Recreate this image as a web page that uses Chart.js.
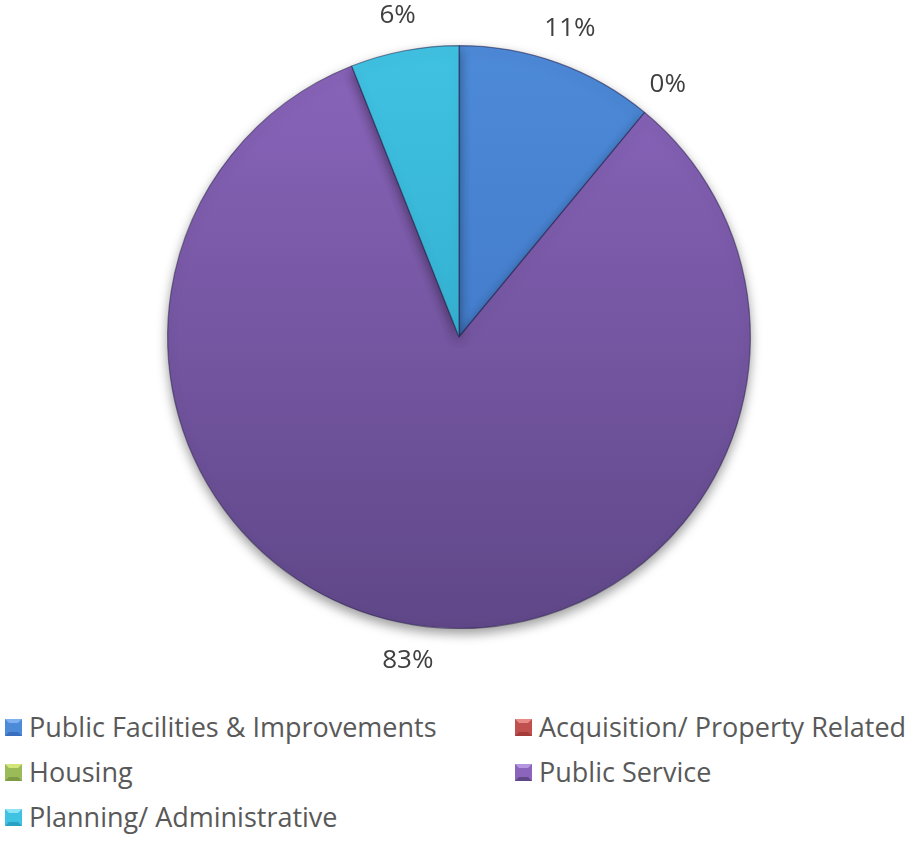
<!DOCTYPE html>
<html>
<head>
<meta charset="utf-8">
<script src="https://cdn.jsdelivr.net/npm/chart.js@4.4.1/dist/chart.umd.min.js"></script>
<style>
  html, body { margin: 0; padding: 0; background: #fff; }
  body { width: 913px; height: 849px; position: relative; overflow: hidden; font-family: "Open Sans", Lato, sans-serif; }
  #wrap { position: absolute; left: 0; top: 0; width: 913px; height: 690px; }
  #legende { position: absolute; left: 0; top: 706px; width: 913px; }
  .item { position: absolute; display: flex; align-items: center; color: #595959; font-size: 27px; line-height: 42px; white-space: nowrap; }
  .item span.box { width: 17px; height: 17px; margin-right: 7px; box-sizing: border-box; border-style: solid; border-width: 4px; }
</style>
</head>
<body>
<div id="wrap"><canvas id="camembert"></canvas></div>
<div id="legende"></div>
<script>
// === DONNEES ===
const categories = [
  "Public Facilities & Improvements",
  "Acquisition/ Property Related",
  "Housing",
  "Public Service",
  "Planning/ Administrative"
];
const pourcentages = [11, 0, null, 83, 6];
const etiquettes = ["11%", "0%", "", "83%", "6%"];

// couleurs haut / bas de chaque part (dégradé façon Excel)
const couleursHaut = ["#4d8ad8", "#c0504d", "#9bbb59", "#8a65bb", "#40c2e2"];
const couleursBas  = ["#3a6fbd", "#a33c39", "#7f9a44", "#5f4788", "#2aa1c2"];
const couleursClair = ["#7fb0f0", "#e88a86", "#d4e67a", "#b497e0", "#8ee4f7"];

// === DEGRADE PAR PART ===
function degrade(ctx) {
  const chart = ctx.chart;
  const a = chart.chartArea;
  if (!a) return couleursHaut[ctx.dataIndex];
  const g = chart.ctx.createLinearGradient(0, a.top, 0, a.bottom);
  g.addColorStop(0, couleursHaut[ctx.dataIndex]);
  g.addColorStop(1, couleursBas[ctx.dataIndex]);
  return g;
}

// ombre douce sous le camembert
const ombre = {
  id: "ombre",
  beforeDatasetsDraw(chart) {
    const c = chart.ctx;
    c.save();
    c.shadowColor = "rgba(0,0,0,0.4)";
    c.shadowBlur = 12;
    c.shadowOffsetY = 5;
  },
  afterDatasetsDraw(chart) {
    chart.ctx.restore();
  }
};

// étiquettes de pourcentage à l'extérieur des parts
const etiquettesExt = {
  id: "etiquettesExt",
  afterDraw(chart) {
    const c = chart.ctx;
    const meta = chart.getDatasetMeta(0);
    c.save();
    c.font = "26px 'Open Sans', Lato, sans-serif";
    c.fillStyle = "#404040";
    c.textAlign = "center";
    c.textBaseline = "middle";
    meta.data.forEach((arc, i) => {
      if (pourcentages[i] === null) return;
      const p = arc.getProps(["x", "y", "startAngle", "endAngle", "outerRadius"], true);
      const ang = (p.startAngle + p.endAngle) / 2;
      const r = p.outerRadius + 36;
      c.fillText(etiquettes[i], p.x + Math.cos(ang) * r, p.y + Math.sin(ang) * r);
    });
    c.restore();
  }
};

new Chart(document.getElementById("camembert"), {
  type: "pie",
  data: {
    labels: categories,
    datasets: [{
      data: pourcentages,
      backgroundColor: degrade,
      borderColor: "rgba(35,25,70,0.5)",
      borderWidth: 1.2
    }]
  },
  options: {
    responsive: true,
    maintainAspectRatio: false,
    animation: false,
    layout: { padding: { left: 5, right: 0, top: 45, bottom: 61 } },
    plugins: {
      legend: { display: false },
      tooltip: { enabled: false }
    }
  },
  plugins: [ombre, etiquettesExt]
});

// === LEGENDE (2 colonnes) ===
const legende = document.getElementById("legende");
categories.forEach((nom, i) => {
  const col = i % 2, ligne = Math.floor(i / 2);
  const div = document.createElement("div");
  div.className = "item";
  div.style.left = (col === 0 ? 5 : 515) + "px";
  div.style.top = (ligne * 45) + "px";
  const bord = `border-color:${couleursClair[i]} ${couleursHaut[i]} ${couleursBas[i]} ${couleursHaut[i]}`;
  div.innerHTML = `<span class="box" style="background:${couleursHaut[i]};${bord}"></span>${nom}`;
  legende.appendChild(div);
});
</script>
</body>
</html>
